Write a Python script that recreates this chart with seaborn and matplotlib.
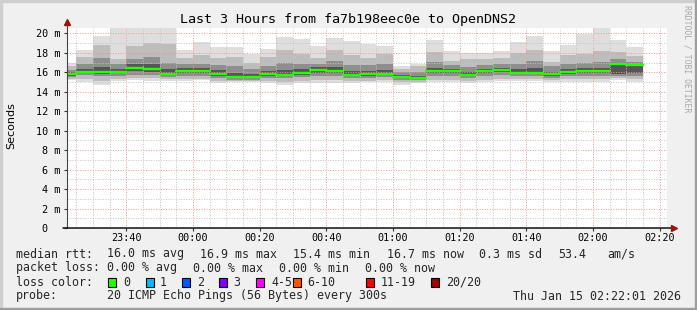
import numpy as np
import pandas as pd
import matplotlib
matplotlib.use("Agg")
import matplotlib.pyplot as plt
import seaborn as sns
from matplotlib.patches import Rectangle

# ---------------- data ----------------
step_end = pd.date_range("2026-01-14 23:25", periods=35, freq="5min")
rtt_median = [15.8, 16.0, 16.0, 16.0, 16.4, 16.3, 15.8, 16.1, 16.1, 15.8,
              15.5, 15.5, 15.8, 15.7, 15.9, 16.2, 16.1, 15.7, 15.8, 15.8,
              15.5, 15.4, 16.1, 16.1, 15.7, 16.1, 16.2, 15.9, 15.9, 15.8,
              16.0, 16.1, 16.1, 16.9, 16.7]
rtt_min = [15.2, 15.0, 14.7, 15.1, 15.2, 15.1, 15.1, 15.1, 15.2, 14.9,
           15.0, 15.0, 14.9, 14.7, 14.9, 14.9, 14.9, 14.9, 15.0, 15.0,
           14.7, 14.9, 15.0, 15.0, 14.9, 15.0, 15.1, 15.1, 15.1, 15.0,
           15.0, 15.0, 15.0, 15.2, 15.0]
rtt_p10 = [15.3, 15.3, 15.1, 15.3, 15.4, 15.4, 15.3, 15.3, 15.3, 15.1,
           15.1, 15.1, 15.1, 15.0, 15.1, 15.2, 15.2, 15.1, 15.1, 15.2,
           15.0, 15.0, 15.2, 15.2, 15.1, 15.2, 15.3, 15.3, 15.3, 15.2,
           15.3, 15.3, 15.3, 15.4, 15.3]
rtt_p25 = [15.5, 15.7, 15.6, 15.6, 15.7, 15.7, 15.5, 15.6, 15.6, 15.4,
           15.2, 15.2, 15.4, 15.4, 15.5, 15.6, 15.6, 15.4, 15.4, 15.5,
           15.2, 15.2, 15.6, 15.6, 15.4, 15.6, 15.7, 15.6, 15.6, 15.4,
           15.6, 15.6, 15.6, 15.6, 15.6]
rtt_p40 = [15.6, 15.9, 15.8, 15.9, 16.1, 16.0, 15.7, 15.9, 15.9, 15.6,
           15.4, 15.4, 15.6, 15.6, 15.7, 15.9, 15.9, 15.6, 15.6, 15.7,
           15.4, 15.3, 15.9, 15.9, 15.6, 15.9, 16.0, 15.8, 15.8, 15.6,
           15.8, 15.9, 15.9, 15.8, 15.9]
rtt_p60 = [16.0, 16.3, 16.5, 16.3, 16.8, 16.9, 16.3, 16.4, 16.4, 16.2,
           15.9, 15.8, 16.1, 16.2, 16.3, 16.5, 16.5, 16.1, 16.1, 16.2,
           15.7, 15.6, 16.4, 16.3, 16.0, 16.3, 16.4, 16.3, 16.4, 16.0,
           16.3, 16.4, 16.4, 17.0, 16.9]
rtt_p75 = [16.2, 16.9, 17.5, 16.8, 17.4, 17.6, 17.0, 16.8, 16.9, 16.7,
           16.6, 16.3, 16.6, 17.0, 16.8, 16.9, 17.2, 16.7, 16.7, 16.8,
           16.0, 16.0, 17.1, 16.7, 16.5, 16.7, 16.8, 16.9, 17.2, 16.6,
           16.9, 17.0, 17.1, 17.4, 17.1]
rtt_p90 = [16.6, 17.6, 18.8, 17.4, 18.7, 19.0, 18.9, 17.5, 17.8, 17.5,
           17.6, 17.0, 17.6, 18.3, 17.9, 17.5, 18.3, 17.8, 17.5, 17.9,
           16.3, 16.6, 18.1, 17.2, 17.4, 17.4, 17.5, 18.0, 18.3, 17.1,
           17.8, 17.9, 18.2, 18.1, 17.7]
rtt_max = [17.0, 18.3, 19.7, 20.6, 20.6, 20.6, 20.6, 18.3, 19.1, 18.6,
           18.6, 17.9, 18.4, 19.6, 19.4, 18.7, 19.5, 19.2, 18.9, 18.7,
           16.6, 16.9, 19.3, 18.2, 18.0, 18.0, 18.2, 19.1, 19.7, 18.2,
           18.8, 19.9, 20.6, 19.3, 18.6]

y_ticks = [0, 2, 4, 6, 8, 10, 12, 14, 16, 18, 20]
y_labels = ["0  ", "2 m", "4 m", "6 m", "8 m", "10 m", "12 m", "14 m", "16 m", "18 m", "20 m"]
x_labels = ["23:40", "00:00", "00:20", "00:40", "01:00", "01:20", "01:40", "02:00", "02:20"]
loss_labels = ["0", "1", "2", "3", "4-5", "6-10", "11-19", "20/20"]
loss_colors = ["#26ff00", "#00b8ff", "#0059ff", "#7e00ff", "#ff00ff", "#ff5500", "#ff0000", "#a00000"]

title = "Last 3 Hours from fa7b198eec0e to OpenDNS2"
row_rtt = [(16, "median rtt:"), (107, "16.0 ms avg"), (200, "16.9 ms max"), (293, "15.4 ms min"),
           (387, "16.7 ms now"), (479, "0.3 ms sd"), (558, "53.4"), (607, "am/s")]
row_loss = [(16, "packet loss:"), (107, "0.00 % avg"), (193, "0.00 % max"), (279, "0.00 % min"),
            (365, "0.00 % now")]
probe_text = "20 ICMP Echo Pings (56 Bytes) every 300s"
stamp_text = "Thu Jan 15 02:22:01 2026"

# ---------------- style ----------------
sns.set_theme(style="white")
plt.rcParams['font.family'] = ['DejaVu Sans Mono', 'DejaVu Sans']
plt.rcParams['axes.unicode_minus'] = False

W, H = 697, 310
fig = plt.figure(figsize=(W / 100, H / 100), dpi=100, facecolor='#f0f0f0')

def fx(x):
    return x / W

def fy(y):
    return 1 - y / H

# frame
fig.patches.append(Rectangle((0, fy(2)), 1, 2 / H, transform=fig.transFigure, color='#cfcfcf', zorder=0))
fig.patches.append(Rectangle((0, 0), 2 / W, 1, transform=fig.transFigure, color='#cfcfcf', zorder=0))
fig.patches.append(Rectangle((0, 0), 1, 2.5 / H, transform=fig.transFigure, color='#9e9e9e', zorder=0))
fig.patches.append(Rectangle((fx(W - 2.5), 0), 2.5 / W, 1, transform=fig.transFigure, color='#9e9e9e', zorder=0))

ax = fig.add_axes([fx(66.5), fy(228), 600 / W, 200 / H])
ax.set_facecolor('white')

midnight = pd.Timestamp("2026-01-15 00:00")
t_end = np.asarray((step_end - midnight).total_seconds() / 60.0)
t_start = t_end - 5

df = pd.DataFrame({"t_start": t_start, "t_end": t_end, "median": rtt_median,
                   "min": rtt_min, "p10": rtt_p10, "p25": rtt_p25, "p40": rtt_p40,
                   "p60": rtt_p60, "p75": rtt_p75, "p90": rtt_p90, "max": rtt_max})

bands = [("min", "max", "#dedede"), ("p10", "p90", "#bdbdbd"),
         ("p25", "p75", "#8e8e8e"), ("p40", "p60", "#555555")]
for lo, hi, col in bands:
    ax.bar(df["t_start"], df[hi] - df[lo], bottom=df[lo], width=5, align='edge',
           color=col, linewidth=0, zorder=1)

seg = pd.concat([
    pd.DataFrame({"t": df["t_start"], "median": df["median"], "col": np.arange(len(df))}),
    pd.DataFrame({"t": df["t_end"], "median": df["median"], "col": np.arange(len(df))}),
]).sort_values(["col", "t"])
sns.lineplot(data=seg, x="t", y="median", units="col", estimator=None, color="#26ff00",
             lw=1.7, ax=ax, legend=False, zorder=3)

x0 = -(37 + 59 / 60)
ax.set_xlim(x0, x0 + 180)
ax.set_ylim(0, 20.55)

ax.set_xticks(np.arange(-20, 141, 20))
ax.set_xticklabels(x_labels)
ax.set_xticks(np.arange(-35, 142, 5), minor=True)
ax.set_yticks(y_ticks)
ax.set_yticklabels(y_labels)
ax.set_yticks(np.arange(1, 21, 2), minor=True)
ax.set_xlabel("")
ax.set_ylabel("")

ax.set_axisbelow(False)
ax.grid(which='minor', color='#c4c4c4', lw=0.7, ls=(0, (1, 1.6)), zorder=2.5)
ax.grid(which='major', color='#eb9a9a', lw=0.7, ls=(0, (1, 1.6)), zorder=2.6)

ax.tick_params(axis='both', which='major', direction='out', length=2, width=0.8,
               color='#333333', labelsize=7.3, labelcolor='black')
ax.tick_params(axis='x', which='major', pad=1.8)
ax.tick_params(axis='y', which='major', pad=2.6)
ax.tick_params(which='minor', length=0)
ax.tick_params(axis='x', which='major', bottom=True)
ax.tick_params(axis='y', which='major', left=True)
for s in ax.spines.values():
    s.set_visible(False)

# axis lines with arrows
ax.plot([0, 0], [0, 1 + 6 / 200], transform=ax.transAxes, color='#444444', lw=0.8,
        clip_on=False, zorder=6)
ax.plot([-4 / 600, 1 + 6 / 600], [0, 0], transform=ax.transAxes, color='#111111', lw=1.1,
        clip_on=False, zorder=6)
ax.plot([0], [1 + 6 / 200], transform=ax.transAxes, marker='^', ms=4.2, color='#9b1414',
        mec='#9b1414', clip_on=False, zorder=7)
ax.plot([1 + 7 / 600], [0], transform=ax.transAxes, marker='>', ms=4.2, color='#9b1414',
        mec='#9b1414', clip_on=False, zorder=7)

# texts
fig.text(0.5, fy(23.5), title, ha='center', va='baseline', size=9.6, color='black')
fig.text(fx(11), fy(126), "Seconds", rotation=90, ha='center', va='center', size=8,
         family=['DejaVu Sans'], color='black')
fig.text(fx(686.5), fy(5), "RRDTOOL / TOBI OETIKER", rotation=270, ha='center', va='top',
         size=5.9, color='#a8a8a8')

LS = 8.4
for x, s in row_rtt:
    fig.text(fx(x), fy(257.5), s, ha='left', va='baseline', size=LS)
for x, s in row_loss:
    fig.text(fx(x), fy(271.5), s, ha='left', va='baseline', size=LS)
fig.text(fx(16), fy(285.5), "loss color:", ha='left', va='baseline', size=LS)
box_x = [108, 146, 182, 219, 256, 293, 366, 431]
lab_x = [123, 160, 197, 233, 271, 307, 381, 446]
for bx, lx, lab, colr in zip(box_x, lab_x, loss_labels, loss_colors):
    fig.patches.append(Rectangle((fx(bx), fy(286.5)), 8 / W, 9 / H, transform=fig.transFigure,
                                 facecolor=colr, edgecolor='black', lw=0.8, zorder=3))
    fig.text(fx(lx), fy(285.5), lab, ha='left', va='baseline', size=LS)
fig.text(fx(16), fy(299.5), "probe:", ha='left', va='baseline', size=LS)
fig.text(fx(107), fy(299.5), probe_text, ha='left', va='baseline', size=LS)
fig.text(fx(681), fy(299.5), stamp_text, ha='right', va='baseline', size=LS)

fig.savefig("out.png", dpi=100, facecolor=fig.get_facecolor())
